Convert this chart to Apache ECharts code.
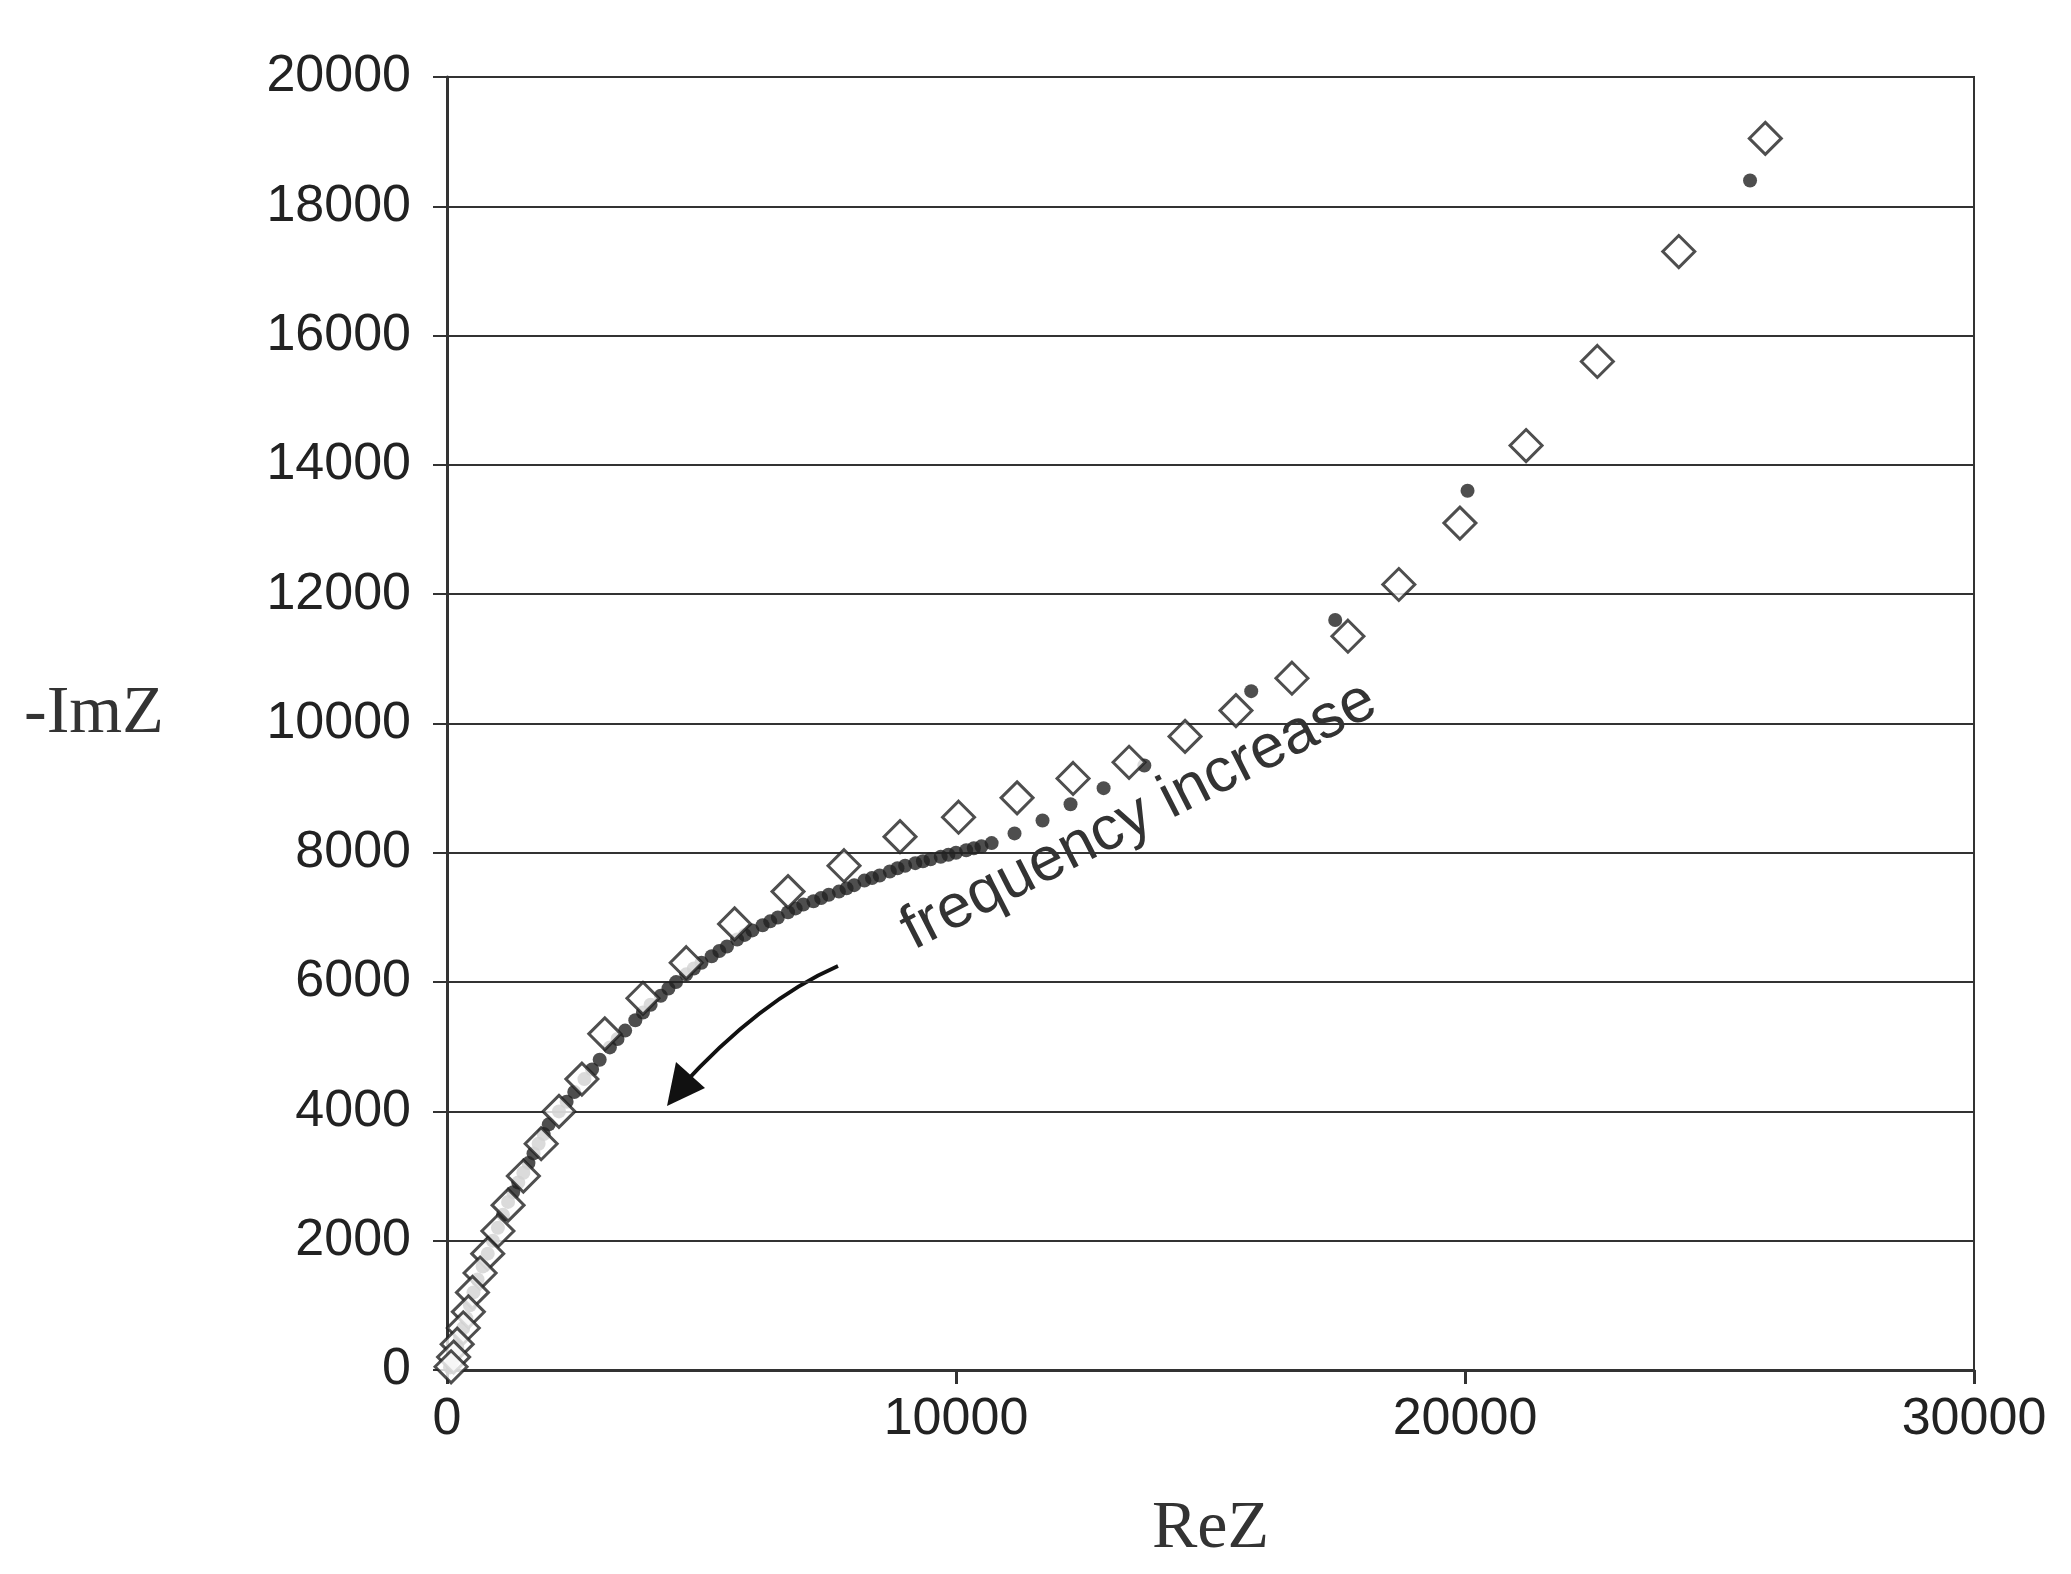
<!DOCTYPE html>
<html>
<head>
<meta charset="utf-8">
<script src="https://cdn.jsdelivr.net/npm/echarts@6/dist/echarts.min.js"></script>
<style>html,body{margin:0;padding:0;background:#fff}#main{width:2071px;height:1574px}</style>
</head>
<body>
<div id="main"></div>
<script>
// measured points (open diamonds): [ReZ, -ImZ]
var measured = [
  [25900, 19050], [24200, 17300], [22600, 15600], [21200, 14300], [19900, 13100],
  [18700, 12150], [17700, 11350], [16600, 10700], [15500, 10200], [14500, 9800],
  [13400, 9400], [12300, 9150], [11200, 8850], [10050, 8550], [8900, 8250],
  [7800, 7800], [6700, 7400], [5650, 6900], [4700, 6300], [3850, 5750],
  [3100, 5200], [2650, 4500], [2200, 4000], [1850, 3500], [1500, 3000],
  [1200, 2550], [1000, 2150], [800, 1800], [650, 1500], [500, 1200],
  [420, 900], [320, 650], [200, 400], [130, 200], [80, 50]
];
// fitted points (filled dots)
var fitted = [
  [25600, 18400], [20050, 13600], [17450, 11600], [15800, 10500], [13700, 9350],
  [12900, 9000], [12250, 8750], [11700, 8500], [11150, 8300], [10700, 8150],
  [10500, 8100], [10350, 8070], [10200, 8040], [10000, 8000], [9850, 7970],
  [9700, 7940], [9500, 7900], [9350, 7870], [9200, 7840], [9000, 7800],
  [8850, 7760], [8700, 7710], [8500, 7650], [8350, 7610], [8200, 7570],
  [8000, 7500], [7850, 7450], [7700, 7400], [7500, 7350], [7350, 7300],
  [7200, 7250], [7000, 7200], [6850, 7140], [6700, 7080], [6500, 7000],
  [6350, 6940], [6200, 6880], [6000, 6800], [5850, 6730], [5700, 6660],
  [5500, 6550], [5350, 6480], [5200, 6400], [5000, 6300], [4850, 6210],
  [4700, 6120], [4500, 6000], [4350, 5900], [4200, 5790], [4000, 5650],
  [3850, 5530], [3700, 5410], [3500, 5250], [3350, 5120], [3200, 4990],
  [3000, 4800], [2850, 4650], [2700, 4500], [2500, 4300], [2350, 4150],
  [2200, 4000], [2000, 3800], [1900, 3650], [1800, 3500], [1700, 3350],
  [1600, 3200], [1500, 3050], [1400, 2900], [1300, 2750], [1200, 2600],
  [1100, 2400], [1000, 2200], [900, 2000], [800, 1800], [700, 1600],
  [600, 1400], [520, 1200], [450, 1000], [380, 800], [320, 650],
  [260, 500], [200, 350], [150, 220], [100, 120], [60, 40]
];
var xTicks = [0, 10000, 20000, 30000];
var yMax = 20000;

var chart = echarts.init(document.getElementById('main'));
var labelFont = {fontFamily: 'Liberation Sans', fontSize: 52, color: '#222'};
chart.setOption({
  animation: false,
  grid: {left: 447, right: 97, top: 77, bottom: 204, show: true, borderColor: '#333', borderWidth: 2},
  xAxis: {
    type: 'value', min: xTicks[0], max: xTicks[xTicks.length - 1], interval: 10000,
    name: 'ReZ', nameLocation: 'middle', nameGap: 125,
    nameTextStyle: {fontFamily: 'Liberation Serif', fontSize: 68, color: '#333'},
    axisLine: {lineStyle: {color: '#333', width: 3}},
    axisTick: {show: true, inside: false, length: 14, lineStyle: {color: '#333', width: 3}},
    axisLabel: Object.assign({margin: 24, formatter: function (v) { return String(v); }}, labelFont),
    splitLine: {show: false}
  },
  yAxis: {
    type: 'value', min: 0, max: yMax, interval: 2000,
    axisLine: {show: true, lineStyle: {color: '#333', width: 3}},
    axisTick: {show: true, length: 14, lineStyle: {color: '#333', width: 2}},
    axisLabel: Object.assign({margin: 36, formatter: function (v) { return String(v); }}, labelFont),
    splitLine: {show: true, lineStyle: {color: '#333', width: 2}}
  },
  graphic: [
    {type: 'text', left: 24, top: 680, style: {text: '-ImZ', font: '68px "Liberation Serif"', fill: '#333'}},
    {type: 'text', x: 1139, y: 816, rotation: 27 * Math.PI / 180,
     style: {text: 'frequency increase', font: '62px "Liberation Sans"', fill: '#333', align: 'center', verticalAlign: 'middle'}},
    {type: 'bezierCurve', shape: {x1: 838, y1: 966, x2: 680, y2: 1088, cpx1: 760, cpy1: 1000},
     style: {stroke: '#111', lineWidth: 4, fill: null}},
    {type: 'polygon', shape: {points: [[667, 1106], [676, 1062], [705, 1088]]}, style: {fill: '#111'}}
  ],
  series: [
    {type: 'scatter', data: fitted, symbol: 'circle', symbolSize: 14,
     itemStyle: {color: '#222'}, z: 2},
    {type: 'scatter', data: measured, symbol: 'diamond', symbolSize: 32,
     itemStyle: {color: '#fff', borderColor: '#222', borderWidth: 3}, z: 3}
  ]
});
</script>
</body>
</html>
